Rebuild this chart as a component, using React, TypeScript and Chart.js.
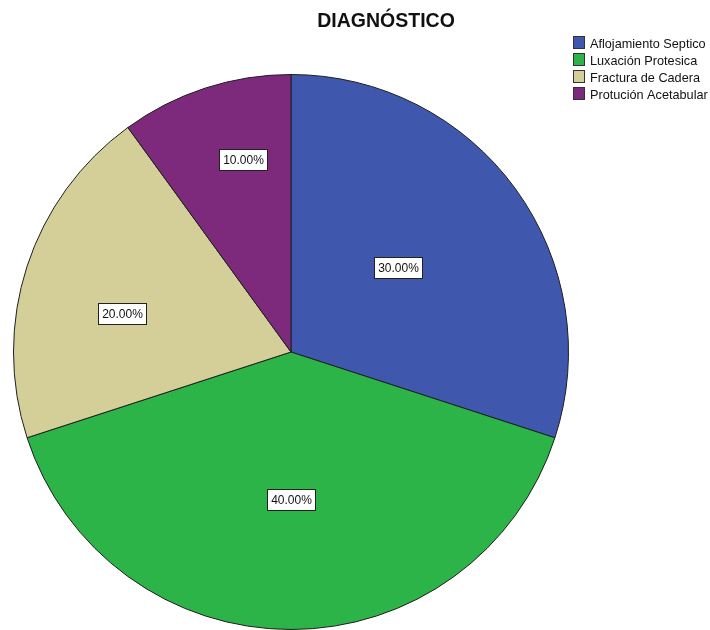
import React, { useEffect, useRef } from "react";
import { Chart, registerables } from "chart.js";

Chart.register(...registerables);

const title = "DIAGNÓSTICO";
const categories = ["Aflojamiento Septico", "Luxación Protesica", "Fractura de Cadera", "Protución Acetabular"];
const percents = [30, 40, 20, 10];
const colors = ["#3f58ad", "#2db449", "#d4cf98", "#7d2a7c"];
const labelRadialFactor = [0.49, 0.53, 0.625, 0.714];
const labelAngleFraction = [0.48, 0.5, 0.43, 0.61];

const FONT = "'Liberation Sans', Arial, sans-serif";

const overlayPlugin = {
  id: "overlay",
  afterDatasetsDraw(chart: any) {
    const ctx = chart.ctx;
    const meta = chart.getDatasetMeta(0);
    ctx.save();
    // slice labels
    ctx.font = `12px ${FONT}`;
    ctx.textBaseline = "middle";
    ctx.textAlign = "center";
    meta.data.forEach((arc: any, i: number) => {
      const p = arc.getProps(["x", "y", "startAngle", "endAngle", "outerRadius"], true);
      const ang = p.startAngle + (p.endAngle - p.startAngle) * labelAngleFraction[i];
      const r = p.outerRadius * labelRadialFactor[i];
      const x = p.x + Math.cos(ang) * r;
      const y = p.y + Math.sin(ang) * r;
      const text = percents[i].toFixed(2) + "%";
      const w = Math.round(ctx.measureText(text).width + 7);
      const h = 21;
      const bx = Math.round(x - w / 2) + 0.5;
      const by = Math.round(y - h / 2) + 0.5;
      ctx.fillStyle = "#ffffff";
      ctx.fillRect(bx, by, w, h);
      ctx.strokeStyle = "#222";
      ctx.lineWidth = 1;
      ctx.strokeRect(bx, by, w, h);
      ctx.fillStyle = "#111";
      ctx.fillText(text, bx + w / 2, by + h / 2 + 1);
    });
    // title
    ctx.font = `bold 19.5px ${FONT}`;
    ctx.fillStyle = "#111";
    ctx.textAlign = "center";
    ctx.fillText(title, 386, 22);
    // legend
    ctx.font = `12.7px ${FONT}`;
    ctx.textAlign = "left";
    categories.forEach((c, i) => {
      const y = 43 + i * 17;
      ctx.fillStyle = colors[i];
      ctx.fillRect(573.5, y - 6.5, 11, 12);
      ctx.strokeStyle = "#333";
      ctx.strokeRect(573.5, y - 6.5, 11, 12);
      ctx.fillStyle = "#111";
      ctx.fillText(c, 590, y + 1);
    });
    ctx.restore();
  },
};

export default function App() {
  const ref = useRef<HTMLCanvasElement>(null);
  useEffect(() => {
    if (!ref.current) return;
    const chart = new Chart(ref.current, {
      type: "pie",
      data: {
        labels: categories,
        datasets: [
          {
            data: percents,
            backgroundColor: colors,
            borderColor: "#1e1e1e",
            borderWidth: 1,
          },
        ],
      },
      options: {
        responsive: false,
        animation: false,
        devicePixelRatio: 1,
        layout: { padding: { left: 11, right: 139, top: 74, bottom: -4 } },
        plugins: {
          legend: { display: false },
          title: { display: false },
          tooltip: { enabled: false },
        },
      },
      plugins: [overlayPlugin],
    });
    return () => chart.destroy();
  }, []);
  return (
    <div style={{ position: "absolute", left: 0, top: 0, width: 710, height: 630, background: "#fff" }}>
      <canvas ref={ref} width={710} height={630} />
    </div>
  );
}
